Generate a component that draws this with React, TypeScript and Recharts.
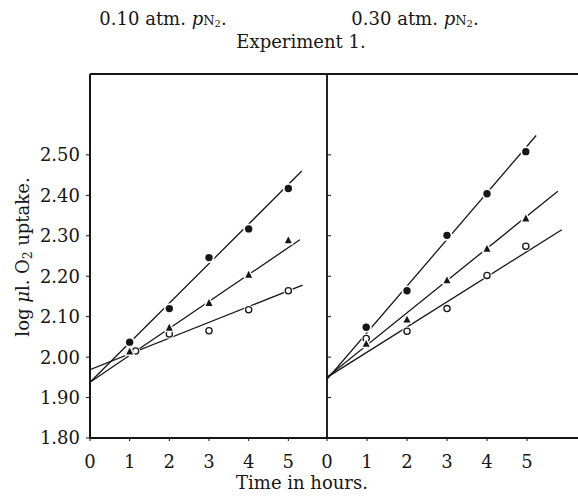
import React from 'react';
import { ComposedChart, Line, Scatter, XAxis, YAxis, ReferenceLine } from 'recharts';

// Experiment 1, log µl O2 uptake against time (hours)
const hourTicks = [0, 1, 2, 3, 4, 5];
const logTicks = [1.8, 1.9, 2.0, 2.1, 2.2, 2.3, 2.4, 2.5];

// 0.10 atm pN2
const lowHours = [1, 2, 3, 4, 5];
const lowOpenHours = [1.15, 2, 3, 4, 5];
const lowFilled = [2.037, 2.12, 2.246, 2.317, 2.417];
const lowTriangle = [2.013, 2.072, 2.133, 2.203, 2.288];
const lowOpen = [2.015, 2.057, 2.065, 2.117, 2.164];
const lowFilledFit = [[0, 1.938], [5.34, 2.46]];
const lowTriangleFit = [[0, 1.938], [5.29, 2.29]];
const lowOpenFit = [[0, 1.969], [5.36, 2.178]];

// 0.30 atm pN2
const highHours = [0.98, 2, 3, 4, 4.97];
const highFilled = [2.074, 2.164, 2.301, 2.404, 2.508];
const highTriangle = [2.032, 2.092, 2.189, 2.267, 2.342];
const highOpen = [2.046, 2.064, 2.12, 2.202, 2.274];
const highFilledFit = [[0, 1.945], [5.23, 2.548]];
const highTriangleFit = [[0, 1.95], [5.77, 2.41]];
const highOpenFit = [[0, 1.95], [5.87, 2.315]];

const INK = '#161616';
const FONT = '"DejaVu Serif", serif';

const pts = (xs: number[], ys: number[]) => xs.map((x, i) => ({ x, y: ys[i] }));
const fit = (p: number[][]) => p.map(([x, y]) => ({ x, y }));

const FilledDot = (props: any) => (
  <g>
    <circle cx={props.cx} cy={props.cy} r={5.4} fill="#fff" />
    <circle cx={props.cx} cy={props.cy} r={3.7} fill={INK} />
  </g>
);
const OpenDot = (props: any) => (
  <g>
    <circle cx={props.cx} cy={props.cy} r={4.8} fill="#fff" />
    <circle cx={props.cx} cy={props.cy} r={3.1} fill="#fff" stroke={INK} strokeWidth={1.3} />
  </g>
);
const TriangleDot = (props: any) => {
  const { cx, cy } = props;
  const d = `M${cx},${cy - 4.2} L${cx + 3.5},${cy + 2.7} L${cx - 3.5},${cy + 2.7} Z`;
  return <path d={d} fill={INK} stroke="#fff" strokeWidth={3} paintOrder="stroke" strokeLinejoin="round" />;
};

interface PanelProps {
  filled: { x: number; y: number }[];
  triangle: { x: number; y: number }[];
  open: { x: number; y: number }[];
  filledFit: { x: number; y: number }[];
  triangleFit: { x: number; y: number }[];
  openFit: { x: number; y: number }[];
  first: boolean;
}

function Panel({ filled, triangle, open, filledFit, triangleFit, openFit, first }: PanelProps) {
  const width = first ? 340 : 282;
  const xMax = first ? 6 : 6.3;
  return (
    <ComposedChart
      width={width}
      height={496}
      margin={{ top: 74, right: first ? 12 : 0, left: first ? 0 : 30, bottom: 28 }}
      style={{ fontFamily: FONT }}
    >
      <XAxis
        type="number"
        dataKey="x"
        domain={[0, xMax]}
        ticks={hourTicks}
        interval={0}
        allowDataOverflow
        height={30}
        axisLine={{ stroke: INK, strokeWidth: 2 }}
        tickLine={{ stroke: INK }}
        tickSize={3}
        tickMargin={14}
        tick={{ fill: INK, fontSize: 18, fontFamily: FONT }}
      />
      <YAxis
        type="number"
        dataKey="y"
        domain={[1.8, 2.7]}
        ticks={logTicks}
        interval={0}
        allowDataOverflow
        width={first ? 90 : 1}
        mirror={!first}
        axisLine={{ stroke: INK, strokeWidth: first ? 2 : 1.5 }}
        tickLine={{ stroke: INK }}
        tickSize={4}
        tickMargin={6}
        tickFormatter={(v: number) => (first ? v.toFixed(2) : '')}
        tick={{ fill: INK, fontSize: 18, fontFamily: FONT }}
      />
      <ReferenceLine y={2.7} stroke={INK} strokeWidth={2} />
      {!first && <ReferenceLine x={0} stroke={INK} strokeWidth={1.5} />}
      <Line data={filledFit} dataKey="y" stroke={INK} strokeWidth={1.3} dot={false} isAnimationActive={false} />
      <Line data={triangleFit} dataKey="y" stroke={INK} strokeWidth={1.3} dot={false} isAnimationActive={false} />
      <Line data={openFit} dataKey="y" stroke={INK} strokeWidth={1.3} dot={false} isAnimationActive={false} />
      <Scatter data={open} dataKey="y" shape={OpenDot} isAnimationActive={false} />
      <Scatter data={triangle} dataKey="y" shape={TriangleDot} isAnimationActive={false} />
      <Scatter data={filled} dataKey="y" shape={FilledDot} isAnimationActive={false} />
    </ComposedChart>
  );
}

const pN2 = (
  <>
    <tspan fontStyle="italic">p</tspan>
    <tspan fontSize={13}>N</tspan>
    <tspan fontSize={10} dy={2}>2</tspan>
    <tspan dy={-2}>.</tspan>
  </>
);

export default function App() {
  return (
    <div
      style={{
        position: 'absolute',
        left: 0,
        top: 0,
        width: 578,
        height: 496,
        overflow: 'hidden',
        background: '#fff',
      }}
    >
      <div style={{ position: 'absolute', left: 0, top: 0 }}>
        <Panel
          first
          filled={pts(lowHours, lowFilled)}
          triangle={pts(lowHours, lowTriangle)}
          open={pts(lowOpenHours, lowOpen)}
          filledFit={fit(lowFilledFit)}
          triangleFit={fit(lowTriangleFit)}
          openFit={fit(lowOpenFit)}
        />
      </div>
      <div style={{ position: 'absolute', left: 297, top: 0 }}>
        <Panel
          first={false}
          filled={pts(highHours, highFilled)}
          triangle={pts(highHours, highTriangle)}
          open={pts(highHours, highOpen)}
          filledFit={fit(highFilledFit)}
          triangleFit={fit(highTriangleFit)}
          openFit={fit(highOpenFit)}
        />
      </div>
      <svg
        width={578}
        height={496}
        style={{ position: 'absolute', left: 0, top: 0, pointerEvents: 'none' }}
        fontFamily={FONT}
        fill={INK}
      >
        <text x={163} y={25} fontSize={18} textAnchor="middle">
          0.10 atm. {pN2}
        </text>
        <text x={415} y={25} fontSize={18} textAnchor="middle">
          0.30 atm. {pN2}
        </text>
        <text x={301} y={48} fontSize={18} textAnchor="middle">
          Experiment 1.
        </text>
        <text x={302} y={489} fontSize={18} textAnchor="middle">
          Time in hours.
        </text>
        <text x={29} y={257} fontSize={18} textAnchor="middle" transform="rotate(-90 29 257)">
          log <tspan fontStyle="italic">μ</tspan>l. O<tspan fontSize={12} dy={3}>2</tspan>
          <tspan dy={-3}> uptake.</tspan>
        </text>
      </svg>
    </div>
  );
}
